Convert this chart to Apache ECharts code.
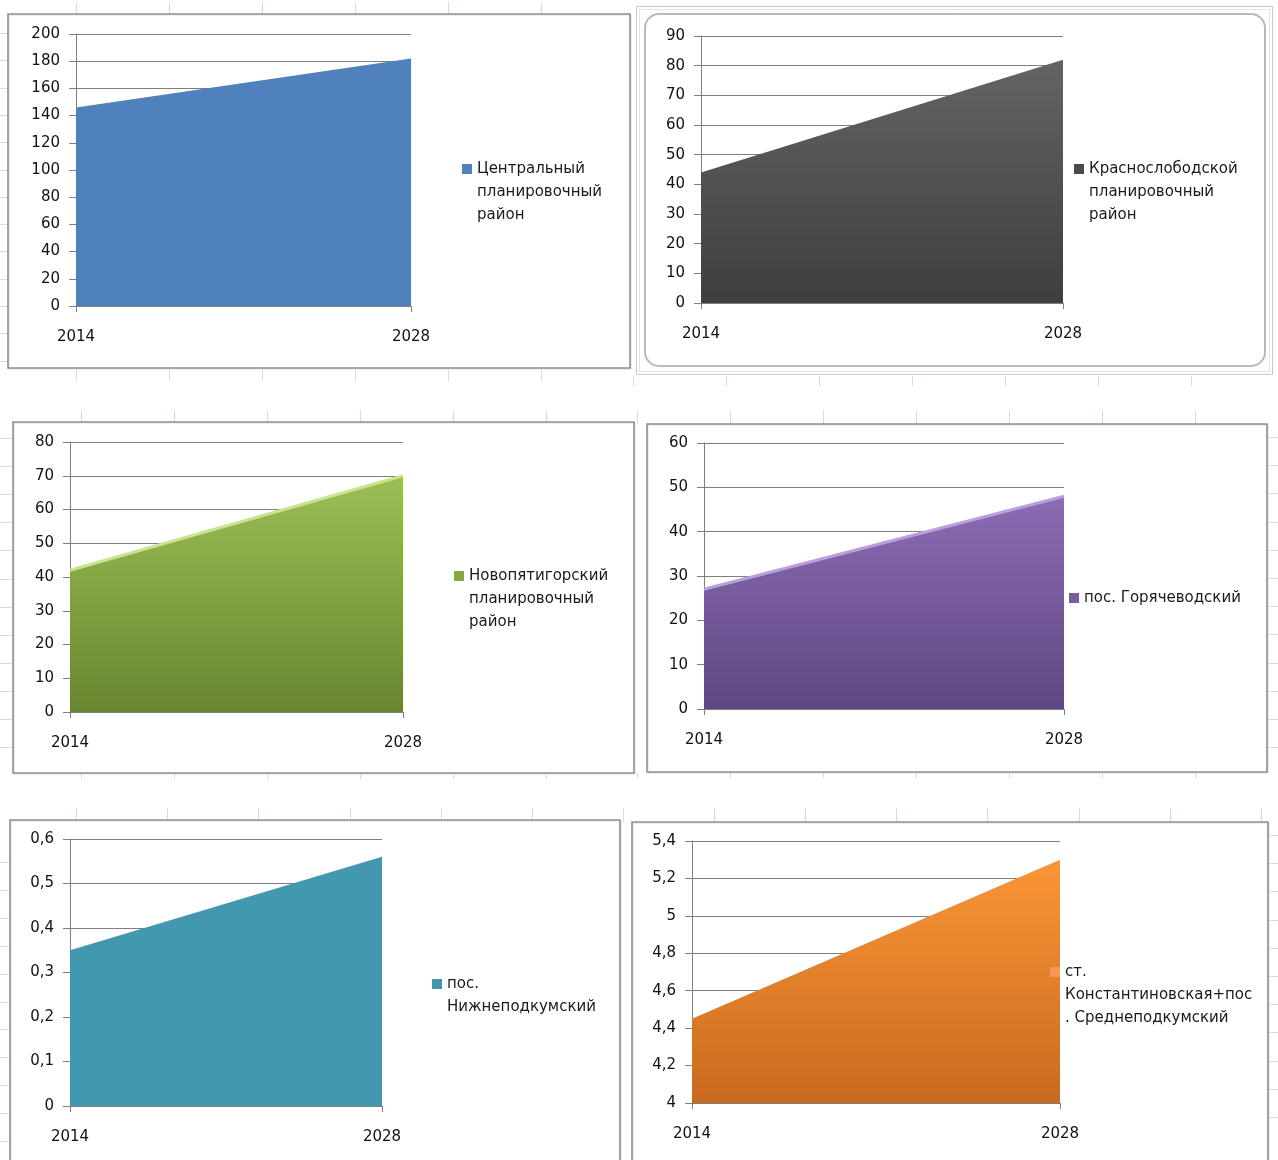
<!DOCTYPE html>
<html><head><meta charset="utf-8">
<script src="https://cdn.jsdelivr.net/npm/echarts@6/dist/echarts.min.js"></script>
<style>html,body{margin:0;padding:0;background:#fff}#c{width:1278px;height:1160px}</style>
</head><body><div id="c"></div>
<script>
// ---------------- DATA ----------------
const categories = ['2014', '2028'];
const seriesNames = [
  'Центральный планировочный район',
  'Краснослободской планировочный район',
  'Новопятигорский планировочный район',
  'пос. Горячеводский',
  'пос. Нижнеподкумский',
  'ст. Константиновская+пос. Среднеподкумский'
];
const legendLines = [
  ['Центральный', 'планировочный', 'район'],
  ['Краснослободской', 'планировочный', 'район'],
  ['Новопятигорский', 'планировочный', 'район'],
  ['пос. Горячеводский'],
  ['пос.', 'Нижнеподкумский'],
  ['ст.', 'Константиновская+пос', '. Среднеподкумский']
];
const valuesCentral = [146, 182];
const valuesKrasnoslobodskoy = [44, 82];
const valuesNovopyatigorsky = [42, 70];
const valuesGoryachevodsky = [27, 48];
const valuesNizhnepodkumsky = [0.35, 0.56];
const valuesKonstantinovskaya = [4.45, 5.3];
const seriesValues = [valuesCentral, valuesKrasnoslobodskoy, valuesNovopyatigorsky,
  valuesGoryachevodsky, valuesNizhnepodkumsky, valuesKonstantinovskaya];
const yMin = [0, 0, 0, 0, 0, 4];
const yMax = [200, 90, 80, 60, 0.6, 5.4];
const yStep = [20, 10, 10, 10, 0.1, 0.2];

// ---------------- LAYOUT / STYLE ----------------
const FONT = 'DejaVu Sans';
const lg = (a, b) => ({type: 'linear', x: 0, y: 0, x2: 0, y2: 1, colorStops: [{offset: 0, color: a}, {offset: 1, color: b}]});
const panels = [
  {frame: [8, 14, 622, 354], grid: {left: 76, top: 34, width: 335, height: 272}, legend: {x: 462, cy: 169},
   fill: '#4f81bd', icon: '#4f81bd', line: null},
  {frame: null, grid: {left: 701, top: 36, width: 362, height: 267}, legend: {x: 1074, cy: 169},
   fill: lg('#646464', '#3e3e3e'), icon: '#4a4a4a', line: null},
  {frame: [13, 422, 621, 351], grid: {left: 70, top: 442, width: 333, height: 270}, legend: {x: 454, cy: 576},
   fill: lg('#9cbf56', '#67862f'), icon: '#86a843', line: '#c9e48c'},
  {frame: [647, 424, 620, 348], grid: {left: 704, top: 443, width: 360, height: 266}, legend: {x: 1069, cy: 598},
   fill: lg('#8b6cb4', '#604783'), icon: '#7a5ca0', line: '#b9a0dc'},
  {frame: [10, 820, 610, 360], grid: {left: 70, top: 839, width: 312, height: 267}, legend: {x: 432, cy: 984},
   fill: '#4198af', icon: '#4198af', line: null},
  {frame: [632, 822, 636, 360], grid: {left: 692, top: 841, width: 368, height: 262}, legend: {x: 1050, cy: 972},
   fill: lg('#fb9536', '#c86a1f'), icon: '#f29a55', line: null}
];

const axisGray = '#7f7f7f';
const textColor = '#111111';

const option = {
  animation: false,
  backgroundColor: '#ffffff',
  grid: panels.map(p => Object.assign({containLabel: false, outerBoundsMode: 'none'}, p.grid)),
  xAxis: panels.map((p, i) => ({
    type: 'category', gridIndex: i, data: categories, boundaryGap: false,
    axisLine: {show: true, lineStyle: {color: axisGray, width: 1}},
    axisTick: {show: true, length: 6, alignWithLabel: true, lineStyle: {color: axisGray}},
    axisLabel: {margin: 24, fontFamily: FONT, fontSize: 15, color: textColor},
    splitLine: {show: false}
  })),
  yAxis: panels.map((p, i) => ({
    type: 'value', gridIndex: i, min: yMin[i], max: yMax[i], interval: yStep[i],
    axisLine: {show: true, lineStyle: {color: axisGray, width: 1}},
    axisTick: {show: true, length: 7, lineStyle: {color: axisGray}},
    axisLabel: {margin: 16, fontFamily: FONT, fontSize: 15, color: textColor,
      formatter: v => String(Math.round(v * 1000) / 1000).replace('.', ',')},
    splitLine: {show: true, lineStyle: {color: axisGray, width: 1}}
  })),
  legend: panels.map((p, i) => {
    const n = legendLines[i].length;
    return {
      left: p.legend.x, top: p.legend.cy - (2 * n - 1) * 11.5, padding: 0,
      itemWidth: 10, itemHeight: 10, icon: 'rect', selectedMode: false,
      data: [{name: seriesNames[i], itemStyle: {color: p.icon, borderWidth: 0}}],
      formatter: () => '\n'.repeat(n - 1) + legendLines[i].join('\n'),
      textStyle: {fontFamily: FONT, fontSize: 15, color: '#1a1a1a', lineHeight: 23}
    };
  }),
  series: panels.map((p, i) => ({
    type: 'line', name: seriesNames[i], xAxisIndex: i, yAxisIndex: i,
    data: seriesValues[i], symbol: 'none', showSymbol: false, silent: true,
    itemStyle: {color: p.icon},
    lineStyle: p.line ? {color: p.line, width: 3} : {width: 0, opacity: 0},
    areaStyle: {color: p.fill, opacity: 1}
  })),
  graphic: []
};

// panel frames
const gfx = [];
panels.forEach(p => {
  if (p.frame) {
    const [x, y, w, h] = p.frame;
    gfx.push({type: 'rect', shape: {x: x + 1, y: y + 1, width: w, height: h}, style: {fill: null, stroke: '#dcdcdc', lineWidth: 1}, silent: true, z: 1});
    gfx.push({type: 'rect', shape: {x, y, width: w, height: h}, style: {fill: null, stroke: '#8e8e8e', lineWidth: 1.6}, silent: true, z: 1});
  }
});
// selected (rounded) frame of panel 2
gfx.push({type: 'rect', shape: {x: 636.5, y: 6.5, width: 636, height: 368}, style: {fill: null, stroke: '#c9c9c9', lineWidth: 1}, silent: true});
gfx.push({type: 'rect', shape: {x: 639.5, y: 9.5, width: 630, height: 362}, style: {fill: null, stroke: '#e4e4e4', lineWidth: 1}, silent: true});
gfx.push({type: 'rect', shape: {x: 645, y: 14, width: 620, height: 352, r: 14}, style: {fill: null, stroke: '#b9b9b9', lineWidth: 2}, silent: true});

// spreadsheet cell-grid stubs peeking around panels
const stub = '#d5dbe7';
const vStubs = [
  [76, 93, 6, 2, 14], [76, 93, 6, 369, 381], [633, 93, 7, 376, 386],
  [81, 93, 6, 410, 422], [637, 93, 7, 410, 424], [81, 93, 6, 773, 779], [637, 93, 7, 772, 778],
  [76, 91.2, 7, 808, 820], [622.5, 91.2, 8, 808, 822]
];
vStubs.forEach(([x0, st, n, y1, y2]) => {
  for (let k = 0; k < n; k++) {
    const x = Math.round(x0 + st * k) + 0.5;
    gfx.push({type: 'line', shape: {x1: x, y1, x2: x, y2}, style: {stroke: stub, lineWidth: 1}, silent: true});
  }
});
const hStubs = [
  [33, 27.3, 13, 0, 7], [438, 28.1, 12, 0, 12], [862, 27.9, 11, 0, 9],
  [437, 28.2, 12, 1268, 1278], [835, 28.2, 11, 1269, 1278]
];
hStubs.forEach(([y0, st, n, x1, x2]) => {
  for (let k = 0; k < n; k++) {
    const y = Math.round(y0 + st * k) + 0.5;
    gfx.push({type: 'line', shape: {x1, y1: y, x2, y2: y}, style: {stroke: stub, lineWidth: 1}, silent: true});
  }
});
option.graphic = gfx;

const chart = echarts.init(document.getElementById('c'), null, {renderer: 'canvas'});
chart.setOption(option);
</script>
</body></html>
